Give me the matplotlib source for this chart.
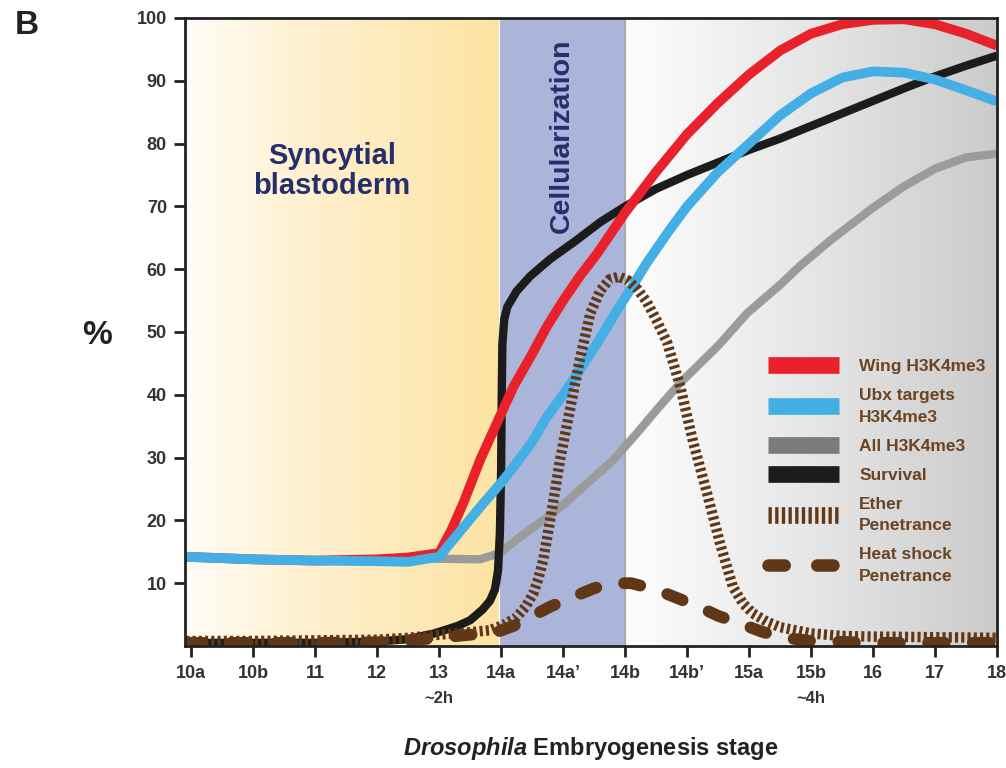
import numpy as np
import matplotlib.pyplot as plt
from matplotlib.colors import LinearSegmentedColormap
from matplotlib.lines import Line2D
import matplotlib.transforms as mtransforms

plt.rcParams['font.family'] = ['Liberation Sans', 'DejaVu Sans']
plt.rcParams['mathtext.fontset'] = 'custom'
plt.rcParams['mathtext.it'] = 'Liberation Sans:italic:bold'
plt.rcParams['mathtext.rm'] = 'Liberation Sans:bold'

# stage labels; x values below are stage index (0 = 10a ... 13 = 18), y in %
stages = ['10a', '10b', '11', '12', '13', '14a', '14a\u2019', '14b', '14b\u2019',
          '15a', '15b', '16', '17', '18']

wing_x = [-0.08, 1, 2, 3, 3.5, 4.0, 4.2, 4.4, 4.66, 5.0, 5.2, 5.5, 5.74, 6.0, 6.27,
          6.55, 7.0, 7.5, 8.0, 8.5, 9.0, 9.5, 10.0, 10.5, 11.0, 11.5, 12.0, 12.5, 13.0]
wing_y = [14.2, 13.8, 13.6, 13.8, 14.1, 14.8, 18.5, 23.0, 29.6, 37.0, 41.3, 46.5, 50.9,
          55.0, 58.9, 62.5, 69.0, 75.5, 81.5, 86.5, 91.0, 94.8, 97.5, 99.0, 99.7, 99.8,
          99.0, 97.5, 95.6]

ubx_x = [-0.08, 1, 2, 3, 3.5, 4.0, 4.3, 4.66, 5.0, 5.2, 5.5, 5.74, 6.0, 6.27, 6.55,
         6.81, 7.1, 7.35, 7.7, 8.0, 8.5, 9.0, 9.5, 10.0, 10.5, 11.0, 11.5, 12.0, 12.5, 13.0]
ubx_y = [14.2, 13.8, 13.6, 13.5, 13.4, 14.2, 17.8, 22.1, 26.0, 28.5, 32.5, 36.5, 40.0,
         44.0, 48.2, 52.5, 57.0, 61.0, 66.0, 70.0, 75.5, 80.0, 84.5, 88.0, 90.5, 91.5,
         91.3, 90.2, 88.5, 86.7]

all_x = [3.5, 4.0, 4.66, 4.98, 5.3, 5.74, 6.0, 6.4, 6.81, 7.2, 7.5, 7.89, 8.5, 8.97,
         9.5, 9.82, 10.3, 11.0, 11.5, 12.0, 12.5, 13.0]
all_y = [13.9, 13.9, 13.8, 14.8, 17.3, 20.5, 22.5, 26.0, 29.6, 34.0, 37.5, 41.9, 47.8,
         53.0, 57.5, 60.5, 64.5, 69.8, 73.2, 76.0, 77.8, 78.4]

surv_x = [-0.08, 1, 2, 3, 3.5, 3.92, 4.3, 4.5, 4.7, 4.82, 4.9, 4.95, 4.98, 5.0, 5.01,
          5.02, 5.05, 5.1, 5.25, 5.47, 5.79, 6.2, 6.6, 7.0, 7.5, 8.0, 8.5, 9.0, 9.5,
          10.0, 10.5, 11.0, 11.5, 12.0, 12.5, 13.0]
surv_y = [0.5, 0.5, 0.5, 0.7, 1.1, 2.0, 3.2, 4.1, 5.8, 7.2, 9.0, 12.0, 18.0, 28.0, 40.0,
          48.0, 52.0, 54.0, 56.5, 58.9, 61.6, 64.5, 67.5, 70.0, 72.8, 75.0, 77.0, 79.0,
          80.8, 82.8, 84.8, 86.8, 88.8, 90.7, 92.4, 94.0]

ether_x = [-0.08, 1, 2, 3, 3.5, 4.0, 4.5, 4.82, 5.05, 5.25, 5.4, 5.52, 5.6, 5.68, 5.82,
           5.95, 6.11, 6.27, 6.44, 6.6, 6.75, 6.9, 7.05, 7.2, 7.35, 7.5, 7.68, 7.89,
           8.1, 8.32, 8.53, 8.74, 8.9, 9.06, 9.3, 9.5, 10.0, 10.5, 11.0, 12.0, 13.0]
ether_y = [0.8, 0.8, 0.9, 1.0, 1.3, 1.8, 2.2, 2.5, 3.4, 4.6, 6.3, 8.4, 10.7, 13.7, 21.7,
           29.6, 37.6, 45.6, 53.0, 56.6, 58.4, 58.8, 58.2, 56.8, 54.8, 52.0, 48.3, 41.3,
           32.4, 24.4, 16.4, 9.4, 6.8, 5.2, 3.8, 3.0, 2.0, 1.6, 1.5, 1.4, 1.3]

heat_x = [-0.08, 1, 2, 3, 3.5, 4.0, 4.5, 4.87, 5.2, 5.47, 5.8, 6.16, 6.5, 6.81, 7.1,
          7.52, 7.85, 8.2, 8.5, 8.85, 9.2, 9.5, 10.0, 11.0, 12.0, 13.0]
heat_y = [0.5, 0.5, 0.5, 0.6, 0.9, 1.3, 1.8, 2.0, 3.2, 4.6, 6.3, 7.8, 9.2, 10.0, 10.0,
          8.9, 7.6, 6.2, 4.8, 3.6, 2.3, 1.4, 0.8, 0.5, 0.5, 0.5]

# developmental periods (stage index)
syncytial = (-0.1, 4.95)
cellular = (4.98, 7.0)
later = (7.0, 13.0)

brown = '#603817'
navy = '#262e6b'

fig = plt.figure(figsize=(10.06, 7.68), dpi=100)
ax = fig.add_axes([185 / 1006, 122 / 768, 812 / 1006, 628 / 768])
ax.set_xlim(-0.1, 13)
ax.set_ylim(0, 100)

# background shading
grad = np.linspace(0, 1, 256).reshape(1, -1)
yellow = LinearSegmentedColormap.from_list('y', ['#fffdf8', '#fff2d4', '#feeabb', '#fde3a2'])
ax.imshow(grad, cmap=yellow, extent=[syncytial[0], syncytial[1], 0, 100],
          aspect='auto', zorder=0)
ax.axvspan(cellular[0], cellular[1], color='#abb4d9', lw=0, zorder=0)
greys = LinearSegmentedColormap.from_list('g', ['#fdfdfd', '#e6e6e6', '#cbcbcb'])
ax.imshow(grad, cmap=greys, extent=[later[0], later[1], 0, 100],
          aspect='auto', zorder=0)
ax.axvline(later[0], color='#a7a9b2', lw=1.5, zorder=0.5)

# curves
ax.plot(all_x, all_y, color='#9b9b9b', lw=6, solid_capstyle='butt', zorder=2)
ax.plot(surv_x, surv_y, color='#1c1c1c', lw=6, solid_capstyle='butt', zorder=3)
ax.plot(wing_x, wing_y, color='#e8212b', lw=7, solid_capstyle='butt', zorder=4)
ax.plot(ubx_x, ubx_y, color='#43afe4', lw=7, solid_capstyle='butt', zorder=5)
ax.plot(ether_x, ether_y, color=brown, lw=7.5, linestyle=(0, (0.3, 0.3)),
        dash_capstyle='butt', zorder=6)
ax.plot(heat_x, heat_y, color=brown, lw=8.5, linestyle=(0, (1.4, 2.4)),
        dash_capstyle='round', zorder=7)

# period labels
ax.text(2.27, 75.6, 'Syncytial\nblastoderm', ha='center', va='center', fontsize=21,
        fontweight='bold', color=navy, linespacing=1.1)
ax.text(5.98, 81.3, 'Cellularization', ha='center', va='center', rotation=90,
        fontsize=20.5, fontweight='bold', color=navy)

# axes styling
ax.set_xticks(range(len(stages)))
ax.set_xticklabels(stages)
ax.set_yticks(range(10, 101, 10))
ax.tick_params(axis='both', direction='out', length=8, width=2, color='#222222',
               labelsize=13, labelcolor='#333333')
ax.tick_params(axis='x', pad=6)
ax.tick_params(axis='y', pad=5)
for lab in ax.get_xticklabels() + ax.get_yticklabels():
    lab.set_fontweight('bold')
for sp in ax.spines.values():
    sp.set_linewidth(2)
    sp.set_color('#222222')
    sp.set_zorder(10)

trans = mtransforms.blended_transform_factory(ax.transData, ax.transAxes)
ax.text(4, -0.083, '~2h', transform=trans, ha='center', va='center', fontsize=12,
        fontweight='bold', color='#333333')
ax.text(10, -0.083, '~4h', transform=trans, ha='center', va='center', fontsize=12,
        fontweight='bold', color='#333333')

ax.text(0.499, -0.163, r'$\mathit{Drosophila}$ Embryogenesis stage', transform=ax.transAxes,
        ha='center', va='center', fontsize=17, fontweight='bold', color='#222222')
fig.text(97 / 1006, 1 - 336 / 768, '%', ha='center', va='center', fontsize=24,
         fontweight='bold', color='#222222')
fig.text(27 / 1006, 1 - 25 / 768, 'B', ha='center', va='center', fontsize=24,
         fontweight='bold', color='#222222')

# legend
handles = [
    Line2D([], [], color='#e8212b', lw=12, solid_capstyle='butt'),
    Line2D([], [], color='#43afe4', lw=12, solid_capstyle='butt'),
    Line2D([], [], color='#7b7b7b', lw=12, solid_capstyle='butt'),
    Line2D([], [], color='#1c1c1c', lw=12, solid_capstyle='butt'),
    Line2D([], [], color=brown, lw=12, linestyle=(0, (0.2, 0.2)), dash_capstyle='butt'),
    Line2D([], [], color=brown, lw=9, linestyle=(0, (1.3, 2.6)), dash_capstyle='round'),
]
labels = ['Wing H3K4me3', 'Ubx targets\nH3K4me3', 'All H3K4me3', 'Survival',
          'Ether\nPenetrance', 'Heat shock\nPenetrance']
leg = ax.legend(handles, labels, loc='upper left', bbox_to_anchor=(0.718, 0.457),
                frameon=False, borderpad=0, borderaxespad=0, handlelength=4.1,
                handletextpad=1.15, labelspacing=0.8,
                prop={'weight': 'bold', 'size': 12.5}, labelcolor='#6b4423')
for t in leg.get_texts():
    t.set_linespacing(1.55)
leg.set_zorder(12)

fig.savefig('out.png', dpi=100)
